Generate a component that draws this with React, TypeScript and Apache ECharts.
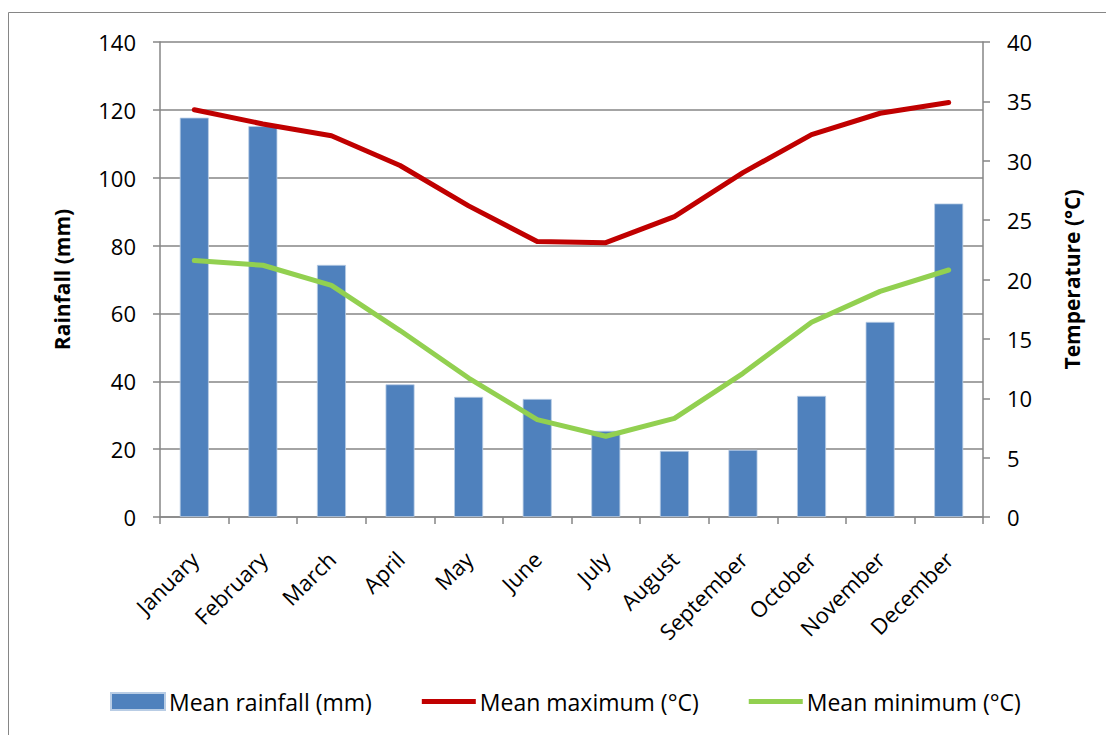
import React, { useEffect, useRef } from "react";
import * as echarts from "echarts";

// Monthly climate summary
const months = [
  "January", "February", "March", "April", "May", "June",
  "July", "August", "September", "October", "November", "December",
];
const meanRainfall = [117.7, 115.2, 74.3, 39.1, 35.4, 34.8, 25.4, 19.5, 19.8, 35.7, 57.5, 92.4];
const meanMaximum = [34.3, 33.1, 32.1, 29.6, 26.2, 23.2, 23.1, 25.3, 29.0, 32.2, 34.0, 34.9];
const meanMinimum = [21.6, 21.2, 19.5, 15.7, 11.7, 8.2, 6.8, 8.3, 12.1, 16.4, 19.0, 20.8];

const rainTicks = { min: 0, max: 140, interval: 20 };
const tempTicks = { min: 0, max: 40, interval: 5 };

const FONT = "'Open Sans', 'Noto Sans', sans-serif";
const AXIS_GREY = "#868686";
// thick horizontal stroke used as the legend key of the two line series
const LINE_KEY = "path://M0,0 H54 V5 H0 Z";

export default function App() {
  const ref = useRef<HTMLDivElement>(null);

  useEffect(() => {
    if (!ref.current) return;
    const chart = echarts.init(ref.current, null, { renderer: "svg" });
    chart.setOption({
      animation: false,
      backgroundColor: "#ffffff",
      textStyle: { fontFamily: FONT, color: "#000" },
      graphic: [
        {
          type: "rect",
          shape: { x: 8.5, y: 12.5, width: 1200, height: 800 },
          style: { fill: "none", stroke: AXIS_GREY, lineWidth: 1 },
          silent: true,
          z: -10,
        },
      ],
      grid: { left: 160, right: 123, top: 42, bottom: 218, containLabel: false },
      legend: {
        left: 110,
        top: 690,
        padding: 0,
        itemWidth: 54,
        itemHeight: 17,
        itemGap: 50,
        symbolKeepAspect: true,
        textStyle: { fontFamily: FONT, fontSize: 23, color: "#000", padding: [0, 0, 0, -1] },
        data: [
          { name: "Mean rainfall (mm)", icon: "rect" },
          { name: "Mean maximum (°C)", icon: LINE_KEY },
          { name: "Mean minimum (°C)", icon: LINE_KEY },
        ],
      },
      xAxis: {
        type: "category",
        data: months,
        boundaryGap: true,
        axisLine: { lineStyle: { color: AXIS_GREY, width: 1.5 } },
        axisTick: { show: true, length: 7, lineStyle: { color: AXIS_GREY, width: 1.5 } },
        axisLabel: {
          rotate: 45,
          margin: 38,
          fontFamily: FONT,
          fontSize: 22,
          color: "#000",
          interval: 0,
        },
        splitLine: { show: false },
      },
      yAxis: [
        {
          type: "value",
          ...rainTicks,
          position: "left",
          name: "Rainfall (mm)",
          nameLocation: "middle",
          nameRotate: 90,
          nameGap: 88,
          nameTextStyle: { fontFamily: FONT, fontSize: 21, fontWeight: "bold", color: "#000" },
          axisLine: { show: true, lineStyle: { color: AXIS_GREY, width: 1.5 } },
          axisTick: { show: true, length: 7, lineStyle: { color: AXIS_GREY, width: 1.5 } },
          axisLabel: { margin: 24, fontFamily: FONT, fontSize: 22, color: "#000" },
          splitLine: { show: true, lineStyle: { color: AXIS_GREY, width: 1.5 } },
        },
        {
          type: "value",
          ...tempTicks,
          position: "right",
          name: "Temperature (°C)",
          nameLocation: "middle",
          nameRotate: 90,
          nameGap: 78,
          nameTextStyle: { fontFamily: FONT, fontSize: 21, fontWeight: "bold", color: "#000" },
          axisLine: { show: true, lineStyle: { color: AXIS_GREY, width: 1.5 } },
          axisTick: { show: true, length: 7, lineStyle: { color: AXIS_GREY, width: 1.5 } },
          axisLabel: { margin: 24, fontFamily: FONT, fontSize: 22, color: "#000" },
          splitLine: { show: false },
        },
      ],
      series: [
        {
          name: "Mean rainfall (mm)",
          type: "bar",
          yAxisIndex: 0,
          data: meanRainfall,
          barWidth: 29,
          itemStyle: { color: "#4F81BD", borderColor: "#B9CDE5", borderWidth: 0.8 },
          z: 2,
        },
        {
          name: "Mean maximum (°C)",
          type: "line",
          yAxisIndex: 1,
          data: meanMaximum,
          showSymbol: false,
          symbol: "none",
          lineStyle: { color: "#C00000", width: 5, cap: "round", join: "round" },
          itemStyle: { color: "#C00000" },
          z: 3,
        },
        {
          name: "Mean minimum (°C)",
          type: "line",
          yAxisIndex: 1,
          data: meanMinimum,
          showSymbol: false,
          symbol: "none",
          lineStyle: { color: "#92D050", width: 5, cap: "round", join: "round" },
          itemStyle: { color: "#92D050" },
          z: 3,
        },
      ],
    });
    return () => chart.dispose();
  }, []);

  return (
    <div
      ref={ref}
      style={{ position: "fixed", left: 0, top: 0, width: 1106, height: 735 }}
    />
  );
}
